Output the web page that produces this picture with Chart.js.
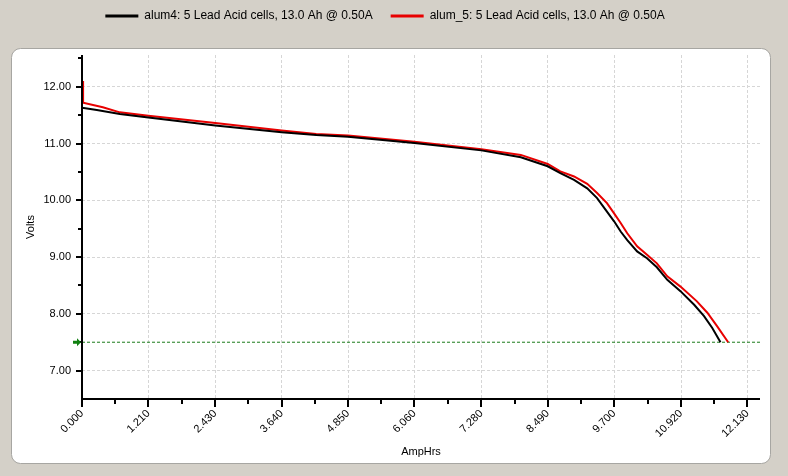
<!DOCTYPE html>
<html lang="en">
<head>
    <meta charset="UTF-8">
    <title>Discharge curves</title>
    <script src="https://cdn.jsdelivr.net/npm/chart.js"></script>
    <style>
        html, body {
            margin: 0;
            padding: 0;
            background: #d4d0c8;
        }
    </style>
</head>
<body>
    <canvas id="myChart" width="788" height="476"></canvas>
    <script>
        // values
        const seriesNames = [
            'alum4: 5 Lead Acid cells, 13.0 Ah @ 0.50A',
            'alum_5: 5 Lead Acid cells, 13.0 Ah @ 0.50A'
        ];
        const alum4Ah = [0, 0.27, 0.69, 1.21, 2.43, 3.64, 4.27, 4.85, 6.06, 7.28, 8.00, 8.49, 8.72, 8.97, 9.21, 9.39, 9.57, 9.70, 9.82, 9.94, 10.12, 10.30, 10.48, 10.67, 10.91, 11.16, 11.34, 11.49, 11.64];
        const alum4Volts = [11.63, 11.59, 11.52, 11.46, 11.32, 11.20, 11.15, 11.12, 11.01, 10.88, 10.76, 10.60, 10.48, 10.36, 10.21, 10.04, 9.80, 9.63, 9.45, 9.30, 9.10, 8.98, 8.82, 8.60, 8.40, 8.16, 7.96, 7.75, 7.50];
        const alum5Ah = [0.02, 0.02, 0.38, 0.69, 1.21, 2.43, 3.64, 4.27, 4.85, 6.06, 7.28, 8.00, 8.49, 8.72, 8.97, 9.21, 9.39, 9.57, 9.70, 9.82, 9.94, 10.12, 10.30, 10.48, 10.67, 10.91, 11.21, 11.40, 11.58, 11.78];
        const alum5Volts = [12.10, 11.72, 11.64, 11.55, 11.49, 11.36, 11.23, 11.17, 11.14, 11.03, 10.90, 10.80, 10.64, 10.51, 10.42, 10.29, 10.13, 9.95, 9.77, 9.60, 9.42, 9.19, 9.04, 8.89, 8.66, 8.48, 8.22, 8.02, 7.78, 7.50];
        const cutoffVolts = 7.5;
        const xTicks = [0, 1.21, 2.43, 3.64, 4.85, 6.06, 7.28, 8.49, 9.70, 10.92, 12.13];
        const yTicks = [7, 8, 9, 10, 11, 12];
        const xMax = 12.36;
        const yMin = 6.5;
        const yMax = 12.56;

        Chart.defaults.font.family = '"Liberation Sans", Arial, sans-serif';
        Chart.defaults.font.size = 11;
        Chart.defaults.color = '#000';

        function toPoints(xs, ys) {
            return xs.map((x, i) => ({ x: x, y: ys[i] }));
        }

        // grey window background, white rounded panel, axes and tick marks
        const panelPlugin = {
            id: 'panel',
            beforeDraw(chart) {
                const ctx = chart.ctx;
                ctx.save();
                ctx.fillStyle = '#d4d0c8';
                ctx.fillRect(0, 0, chart.width, chart.height);
                ctx.beginPath();
                ctx.roundRect(11.5, 48.5, 759, 415, 9);
                ctx.fillStyle = '#fff';
                ctx.fill();
                ctx.strokeStyle = '#a7a6a2';
                ctx.lineWidth = 1;
                ctx.stroke();
                ctx.restore();
            },
            afterDraw(chart) {
                const ctx = chart.ctx;
                const area = chart.chartArea;
                const xs = chart.scales.x;
                const ys = chart.scales.y;
                ctx.save();
                ctx.strokeStyle = '#000';
                ctx.lineWidth = 2;
                ctx.beginPath();
                ctx.moveTo(area.left, area.top);
                ctx.lineTo(area.left, area.bottom);
                ctx.lineTo(area.right, area.bottom);
                ctx.stroke();

                ctx.beginPath();
                xTicks.forEach((v, i) => {
                    const px = Math.round(xs.getPixelForValue(v));
                    ctx.moveTo(px, area.bottom);
                    ctx.lineTo(px, area.bottom + 8);
                    if (i < xTicks.length - 1) {
                        const mx = Math.round(xs.getPixelForValue((v + xTicks[i + 1]) / 2));
                        ctx.moveTo(mx, area.bottom);
                        ctx.lineTo(mx, area.bottom + 5);
                    }
                });
                yTicks.forEach(v => {
                    const py = Math.round(ys.getPixelForValue(v));
                    ctx.moveTo(area.left - 6, py);
                    ctx.lineTo(area.left, py);
                    const my = Math.round(ys.getPixelForValue(v + 0.5));
                    ctx.moveTo(area.left - 4, my);
                    ctx.lineTo(area.left, my);
                });
                ctx.stroke();

                // arrow marking the cutoff level
                const ay = ys.getPixelForValue(cutoffVolts);
                ctx.fillStyle = '#108010';
                ctx.beginPath();
                ctx.moveTo(area.left - 9, ay - 1.5);
                ctx.lineTo(area.left - 5, ay - 1.5);
                ctx.lineTo(area.left - 5, ay - 4);
                ctx.lineTo(area.left - 1, ay);
                ctx.lineTo(area.left - 5, ay + 4);
                ctx.lineTo(area.left - 5, ay + 1.5);
                ctx.lineTo(area.left - 9, ay + 1.5);
                ctx.closePath();
                ctx.fill();
                ctx.restore();
            },
            beforeLayout(chart) {
                const legend = chart.legend;
                if (legend && !legend._fixed) {
                    const fit = legend.fit;
                    legend.fit = function () {
                        fit.call(this);
                        this.height = 63;
                    };
                    legend._fixed = true;
                }
            }
        };

        const ctx = document.getElementById('myChart').getContext('2d');
        new Chart(ctx, {
            type: 'line',
            data: {
                datasets: [{
                    label: seriesNames[0],
                    data: toPoints(alum4Ah, alum4Volts),
                    borderColor: '#000',
                    backgroundColor: '#000',
                    borderWidth: 2
                }, {
                    label: seriesNames[1],
                    data: toPoints(alum5Ah, alum5Volts),
                    borderColor: '#e80000',
                    backgroundColor: '#e80000',
                    borderWidth: 2
                }, {
                    label: 'cutoff',
                    data: [{ x: 0, y: cutoffVolts }, { x: xMax, y: cutoffVolts }],
                    borderColor: '#1a7a1a',
                    borderWidth: 1,
                    borderDash: [3, 2]
                }]
            },
            options: {
                responsive: false,
                animation: false,
                elements: {
                    point: { radius: 0 },
                    line: { tension: 0 }
                },
                layout: {
                    padding: { left: 10, right: 28, top: -8, bottom: 0 }
                },
                plugins: {
                    tooltip: { enabled: false },
                    legend: {
                        position: 'top',
                        labels: {
                            usePointStyle: true,
                            pointStyle: 'line',
                            pointStyleWidth: 33,
                            padding: 18,
                            font: { size: 12 },
                            filter: item => item.datasetIndex < 2,
                            generateLabels(chart) {
                                const items = Chart.defaults.plugins.legend.labels.generateLabels(chart);
                                items.forEach(it => { it.lineWidth = 3; });
                                return items;
                            }
                        }
                    }
                },
                scales: {
                    x: {
                        type: 'linear',
                        min: 0,
                        max: xMax,
                        afterBuildTicks: scale => {
                            scale.ticks = xTicks.map(v => ({ value: v }));
                        },
                        afterFit: scale => {
                            scale.height = 77;
                        },
                        ticks: {
                            minRotation: 45,
                            maxRotation: 45,
                            padding: 8,
                            callback: v => v.toFixed(3)
                        },
                        grid: {
                            color: '#d6d6d6',
                            drawTicks: false,
                            tickLength: 0
                        },
                        border: { display: false, dash: [3, 2] },
                        title: {
                            display: true,
                            text: 'AmpHrs',
                            padding: { top: 0, bottom: 17 }
                        }
                    },
                    y: {
                        min: yMin,
                        max: yMax,
                        afterBuildTicks: scale => {
                            scale.ticks = yTicks.map(v => ({ value: v }));
                        },
                        afterFit: scale => {
                            scale.width = 72;
                        },
                        ticks: {
                            padding: 11,
                            callback: v => v.toFixed(2)
                        },
                        grid: {
                            color: '#d6d6d6',
                            drawTicks: false,
                            tickLength: 0
                        },
                        border: { display: false, dash: [3, 2] },
                        title: {
                            display: true,
                            text: 'Volts',
                            padding: { top: 14, bottom: 0 }
                        }
                    }
                }
            },
            plugins: [panelPlugin]
        });
    </script>
</body>
</html>
